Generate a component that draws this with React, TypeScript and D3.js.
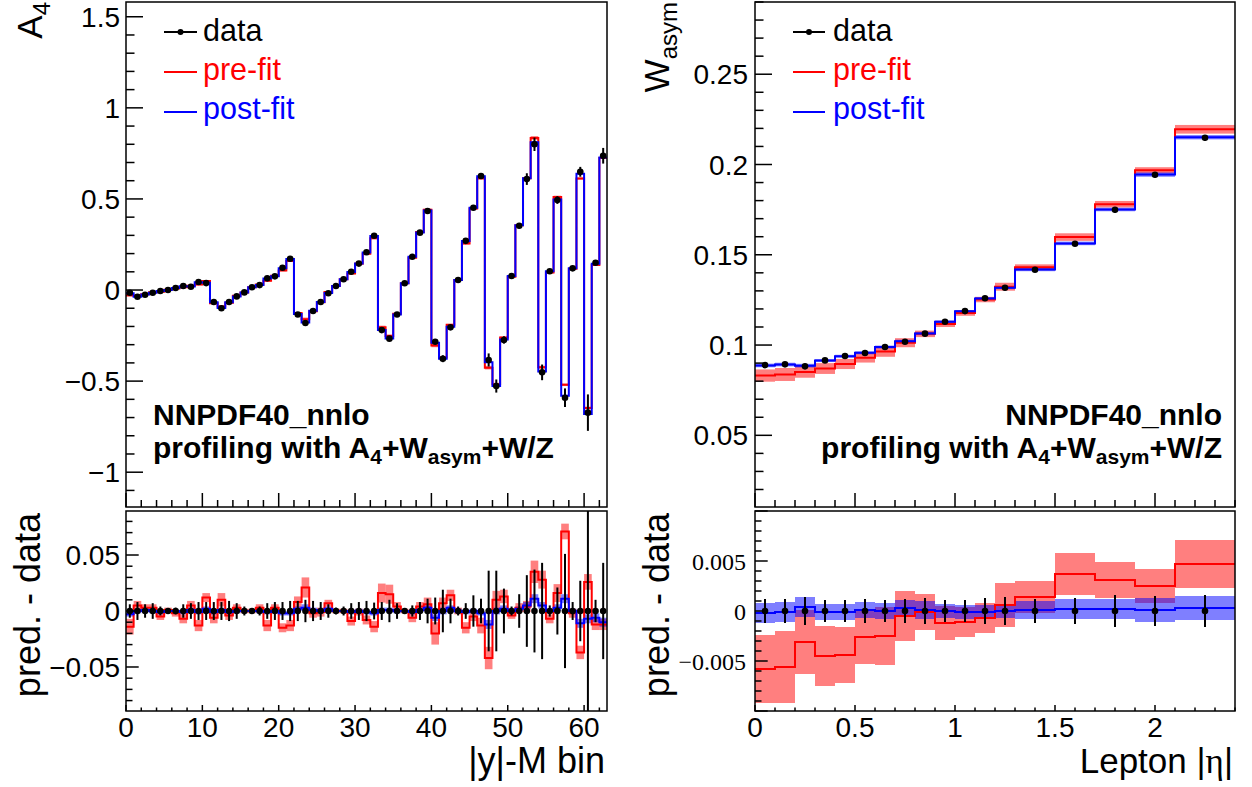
import React from "react";
import * as d3 from "d3";

// ---------------- Data: A4 vs |y|-M bin ----------------
const a4Edges = d3.range(0, 64);
const a4Data = [
  -0.015, -0.037, -0.026, -0.015, -0.005, 0.0, 0.011, 0.022, 0.018, 0.044,
  0.038, -0.066, -0.1, -0.066, -0.035, -0.013, 0.015, 0.027, 0.064, 0.075,
  0.122, 0.172, -0.134, -0.181, -0.115, -0.066, -0.018, 0.022, 0.059, 0.1,
  0.145, 0.207, 0.298, -0.22, -0.267, -0.134, 0.037, 0.183, 0.315, 0.434,
  -0.284, -0.377, -0.205, 0.055, 0.27, 0.452, 0.626, -0.384, -0.527, -0.274,
  0.077, 0.353, 0.609, 0.8, -0.452, 0.103, 0.494, -0.591, 0.119, 0.649,
  -0.673, 0.15, 0.737,
];
const a4Err = [
  0.006, 0.008, 0.006, 0.007, 0.004, 0.002, 0.003, 0.006, 0.007, 0.008,
  0.008, 0.008, 0.008, 0.009, 0.007, 0.004, 0.002, 0.004, 0.007, 0.008,
  0.008, 0.009, 0.009, 0.01, 0.009, 0.008, 0.006, 0.003, 0.004, 0.007,
  0.008, 0.009, 0.0075, 0.008, 0.01, 0.007, 0.002, 0.005, 0.008, 0.011,
  0.012, 0.019, 0.011, 0.004, 0.007, 0.014, 0.011, 0.036, 0.036, 0.02,
  0.004, 0.015, 0.032, 0.037, 0.043, 0.005, 0.021, 0.051, 0.008, 0.027,
  0.1, 0.01, 0.043,
];
const a4PreDiff = [
  -0.014, 0.005, 0.003, 0.003, -0.005, 0.001, -0.002, -0.007, 0.005, -0.013,
  0.012, -0.006, 0.01, -0.004, 0.003, 0.0, 0.0, 0.003, -0.013, 0.003,
  -0.015, -0.013, 0.008, 0.021, -0.002, -0.001, 0.007, 0.0, 0.0, -0.009,
  -0.001, -0.008, -0.014, 0.016, 0.015, 0.004, 0.0, -0.006, 0.004, 0.006,
  -0.02, 0.007, 0.014, 0.0, -0.015, -0.005, -0.013, -0.042, 0.01, 0.013,
  -0.004, 0.003, 0.004, 0.035, 0.028, -0.007, 0.016, 0.071, -0.002, -0.037,
  0.026, -0.012, -0.012,
];
const a4PreBand = [
  0.007, 0.004, 0.003, 0.003, 0.003, 0.002, 0.003, 0.004, 0.004, 0.005,
  0.004, 0.005, 0.006, 0.004, 0.003, 0.002, 0.002, 0.003, 0.005, 0.003,
  0.004, 0.005, 0.005, 0.009, 0.004, 0.004, 0.003, 0.002, 0.002, 0.004,
  0.003, 0.004, 0.005, 0.0085, 0.0085, 0.004, 0.002, 0.004, 0.004, 0.006,
  0.01, 0.005, 0.005, 0.003, 0.005, 0.004, 0.007, 0.01, 0.008, 0.006,
  0.003, 0.004, 0.005, 0.01, 0.008, 0.004, 0.008, 0.007, 0.004, 0.006,
  0.007, 0.005, 0.005,
];
const a4PostDiff = [
  -0.003, 0.0, 0.001, 0.0, -0.001, 0.0, 0.0, -0.001, 0.001, -0.001,
  0.002, -0.001, 0.001, -0.001, 0.0, 0.0, 0.0, 0.0, -0.001, 0.0,
  -0.002, -0.002, 0.002, 0.003, 0.001, 0.0, 0.002, 0.0, 0.0, -0.001,
  0.0, -0.001, -0.002, 0.001, 0.001, 0.0, 0.0, -0.001, 0.001, 0.003,
  -0.006, 0.0, 0.003, 0.0, -0.001, 0.0, -0.002, -0.012, 0.0, 0.002,
  0.0, 0.002, 0.005, 0.011, 0.005, 0.0, 0.003, 0.011, 0.0, -0.011,
  -0.007, -0.006, -0.01,
];
const a4PostBand = [
  0.002, 0.002, 0.002, 0.002, 0.002, 0.001, 0.001, 0.002, 0.002, 0.002,
  0.002, 0.002, 0.002, 0.002, 0.002, 0.001, 0.001, 0.002, 0.002, 0.002,
  0.002, 0.002, 0.002, 0.003, 0.002, 0.002, 0.002, 0.001, 0.001, 0.002,
  0.002, 0.002, 0.002, 0.002, 0.002, 0.002, 0.001, 0.002, 0.002, 0.002,
  0.003, 0.003, 0.002, 0.002, 0.002, 0.002, 0.002, 0.004, 0.003, 0.003,
  0.002, 0.002, 0.003, 0.004, 0.003, 0.002, 0.003, 0.004, 0.002, 0.004,
  0.004, 0.004, 0.004,
];

// ---------------- Data: W asymmetry vs lepton |eta| ----------------
const etaEdges = [0, 0.1, 0.2, 0.3, 0.4, 0.5, 0.6, 0.7, 0.8, 0.9, 1.0, 1.1, 1.2, 1.3, 1.5, 1.7, 1.9, 2.1, 2.4];
const wData = [0.0889, 0.0893, 0.0882, 0.0915, 0.0939, 0.0956, 0.0989, 0.1018, 0.1063, 0.1129, 0.1188, 0.1259, 0.1317, 0.1417, 0.1561, 0.1749, 0.1943, 0.2148];
const wErr = [0.0012, 0.0012, 0.0014, 0.0011, 0.0011, 0.0012, 0.0011, 0.0012, 0.0013, 0.0011, 0.0011, 0.0013, 0.0014, 0.0012, 0.0013, 0.0016, 0.0015, 0.0016];
const wPreDiff = [-0.0058, -0.0056, -0.0031, -0.0045, -0.0044, -0.0026, -0.0025, -0.0005, -0.0001, -0.0012, -0.0011, -0.0007, 0.0006, 0.0014, 0.0037, 0.0031, 0.0025, 0.0047];
const wPreBand = [0.0034, 0.0036, 0.0032, 0.003, 0.0028, 0.0027, 0.0029, 0.0025, 0.0018, 0.0017, 0.0015, 0.0015, 0.0022, 0.0016, 0.0021, 0.0018, 0.0017, 0.0024];
const wPostDiff = [-0.0002, -0.0001, 0.0004, -0.0001, -0.0001, 0.0001, 0.0, 0.0003, 0.0001, 0.0, -0.0001, -0.0001, 0.0, 0.0001, 0.0002, 0.0002, 0.0001, 0.0003];
const wPostBand = [0.001, 0.001, 0.001, 0.0008, 0.0008, 0.0008, 0.0008, 0.0008, 0.0009, 0.0007, 0.0007, 0.0007, 0.0007, 0.0009, 0.001, 0.001, 0.0012, 0.0012];

// ---------------- Tick labels ----------------
const a4YTicks = [-1, -0.5, 0, 0.5, 1, 1.5];
const a4YLabels = ["\u22121", "\u22120.5", "0", "0.5", "1", "1.5"];
const a4RatioTicks = [-0.05, 0, 0.05];
const a4RatioLabels = ["\u22120.05", "0", "0.05"];
const a4XTicks = [0, 10, 20, 30, 40, 50, 60];
const a4XLabels = ["0", "10", "20", "30", "40", "50", "60"];
const wYTicks = [0.05, 0.1, 0.15, 0.2, 0.25];
const wYLabels = ["0.05", "0.1", "0.15", "0.2", "0.25"];
const wRatioTicks = [-0.005, 0, 0.005];
const wRatioLabels = ["\u22120.005", "0", "0.005"];
const wXTicks = [0, 0.5, 1, 1.5, 2];
const wXLabels = ["0", "0.5", "1", "1.5", "2"];

const FONT = "'Liberation Sans', Arial, Helvetica, sans-serif";
const SERIF = "'Liberation Serif', 'Times New Roman', serif";
const RED = "#ff0000";
const BLUE = "#0000ff";

// Layout
const TOP_Y0 = 2, TOP_Y1 = 507, BOT_Y0 = 511, BOT_Y1 = 711;
const L_X0 = 126, L_X1 = 607, R_X0 = 755, R_X1 = 1235;

function Bands({ xs, ys, edges, vals, band, color, clip }: any) {
  return (
    <g clipPath={`url(#${clip})`}>
      {vals.map((v: number, i: number) => {
        const yt = ys(v + band[i]);
        const yb = ys(v - band[i]);
        return (
          <rect key={i} x={xs(edges[i])} width={xs(edges[i + 1]) - xs(edges[i])} y={yt} height={Math.max(0.5, yb - yt)} fill={color} fillOpacity={0.5} />
        );
      })}
    </g>
  );
}

function Step({ xs, ys, edges, vals, color, clip }: any) {
  const pts: [number, number][] = [];
  vals.forEach((v: number, i: number) => {
    pts.push([edges[i], v]);
    pts.push([edges[i + 1], v]);
  });
  const line = d3.line<[number, number]>().x((d) => xs(d[0])).y((d) => ys(d[1]));
  return <path clipPath={`url(#${clip})`} d={line(pts) || ""} fill="none" stroke={color} strokeWidth={2} />;
}

function Points({ xs, ys, centers, vals, errs, clip }: any) {
  return (
    <g clipPath={`url(#${clip})`}>
      {vals.map((v: number, i: number) => (
        <g key={i}>
          <line x1={xs(centers[i])} x2={xs(centers[i])} y1={ys(v - errs[i])} y2={ys(v + errs[i])} stroke="#000" strokeWidth={2} />
          <circle cx={xs(centers[i])} cy={ys(v)} r={3.3} fill="#000" />
        </g>
      ))}
    </g>
  );
}

function YAxis({ ys, x0, major, minor, majLen, minLen, tickVals, tickLabels, labelFont, labelSize, labelX }: any) {
  const [lo, hi] = ys.domain();
  const n0 = Math.ceil(lo / minor - 1e-6);
  const n1 = Math.floor(hi / minor + 1e-6);
  const ratio = Math.round(major / minor);
  const ticks = d3.range(n0, n1 + 1);
  return (
    <g>
      {ticks.map((k) => {
        const isMaj = k % ratio === 0;
        const y = ys(k * minor);
        return <line key={k} x1={x0} x2={x0 + (isMaj ? majLen : minLen)} y1={y} y2={y} stroke="#000" strokeWidth={1.5} />;
      })}
      {tickVals.map((v: number, i: number) => (
        <text key={"l" + i} x={labelX} y={ys(v)} dy="0.36em" textAnchor="end" fontFamily={labelFont} fontSize={labelSize} fill="#000">
          {tickLabels[i]}
        </text>
      ))}
    </g>
  );
}

function XAxis({ xs, y0, major, minor, majLen, minLen, tickVals, tickLabels, labelY }: any) {
  const [lo, hi] = xs.domain();
  const n0 = Math.ceil(lo / minor - 1e-6);
  const n1 = Math.floor(hi / minor + 1e-6);
  const ratio = Math.round(major / minor);
  const ticks = d3.range(n0, n1 + 1);
  return (
    <g>
      {ticks.map((k) => {
        const isMaj = k % ratio === 0;
        const x = xs(k * minor);
        return <line key={k} x1={x} x2={x} y1={y0} y2={y0 - (isMaj ? majLen : minLen)} stroke="#000" strokeWidth={1.5} />;
      })}
      {tickVals &&
        tickVals.map((v: number, i: number) => (
          <text key={"l" + i} x={xs(v)} y={labelY} textAnchor="middle" fontFamily={FONT} fontSize={28} fill="#000">
            {tickLabels[i]}
          </text>
        ))}
    </g>
  );
}

function Legend({ x, lineX0, lineX1 }: any) {
  const rows = [
    { label: "data", color: "#000", y: 32, base: 41 },
    { label: "pre-fit", color: RED, y: 72, base: 80 },
    { label: "post-fit", color: BLUE, y: 112, base: 119 },
  ];
  return (
    <g>
      {rows.map((r, i) => (
        <g key={i}>
          <line x1={lineX0} x2={lineX1} y1={r.y} y2={r.y} stroke={r.color} strokeWidth={2} />
          {i === 0 && <circle cx={(lineX0 + lineX1) / 2} cy={r.y} r={3} fill="#000" />}
          <text x={x} y={r.base} fontFamily={FONT} fontSize={30.5} fill={r.color}>
            {r.label}
          </text>
        </g>
      ))}
    </g>
  );
}

function Caption({ x, anchor }: any) {
  return (
    <g fontFamily={FONT} fontWeight="bold" fontSize={30} fill="#000">
      <text x={x} y={425} textAnchor={anchor}>NNPDF40_nnlo</text>
      <text x={x} y={458} textAnchor={anchor}>
        profiling with A<tspan fontSize={21} dy={6}>4</tspan>
        <tspan dy={-6}>+W</tspan>
        <tspan fontSize={21} dy={6}>asym</tspan>
        <tspan dy={-6}>+W/Z</tspan>
      </text>
    </g>
  );
}

export default function App() {
  // scales
  const xA4 = d3.scaleLinear().domain([0, 63]).range([L_X0, L_X1]);
  const yA4 = d3.scaleLinear().domain([-1.191, 1.581]).range([TOP_Y1, TOP_Y0]);
  const yA4r = d3.scaleLinear().domain([-0.0893, 0.0893]).range([BOT_Y1, BOT_Y0]);
  const xW = d3.scaleLinear().domain([0, 2.4]).range([R_X0, R_X1]);
  const yW = d3.scaleLinear().domain([0.0103, 0.29]).range([TOP_Y1, TOP_Y0]);
  const yWr = d3.scaleLinear().domain([-0.01, 0.01]).range([BOT_Y1, BOT_Y0]);

  const a4Centers = a4Data.map((_, i) => (a4Edges[i] + a4Edges[i + 1]) / 2);
  const wCenters = wData.map((_, i) => (etaEdges[i] + etaEdges[i + 1]) / 2);

  const a4Pre = a4Data.map((d, i) => d + a4PreDiff[i]);
  const a4Post = a4Data.map((d, i) => d + a4PostDiff[i]);
  const wPre = wData.map((d, i) => d + wPreDiff[i]);
  const wPost = wData.map((d, i) => d + wPostDiff[i]);
  const zerosA4 = a4Data.map(() => 0);
  const zerosW = wData.map(() => 0);

  const frame = (x0: number, x1: number, y0: number, y1: number) => (
    <rect x={x0} y={y0} width={x1 - x0} height={y1 - y0} fill="none" stroke="#000" strokeWidth={1.5} />
  );

  return (
    <svg width={1252} height={787} style={{ position: "absolute", left: 0, top: 0, background: "#fff" }}>
      <defs>
        <clipPath id="cLT"><rect x={L_X0} y={TOP_Y0} width={L_X1 - L_X0} height={TOP_Y1 - TOP_Y0} /></clipPath>
        <clipPath id="cLB"><rect x={L_X0} y={BOT_Y0} width={L_X1 - L_X0} height={BOT_Y1 - BOT_Y0} /></clipPath>
        <clipPath id="cRT"><rect x={R_X0} y={TOP_Y0} width={R_X1 - R_X0} height={TOP_Y1 - TOP_Y0} /></clipPath>
        <clipPath id="cRB"><rect x={R_X0} y={BOT_Y0} width={R_X1 - R_X0} height={BOT_Y1 - BOT_Y0} /></clipPath>
      </defs>
      <rect x={0} y={0} width={1252} height={787} fill="#fff" />

      {/* ---------- Left top ---------- */}
      <Bands xs={xA4} ys={yA4} edges={a4Edges} vals={a4Pre} band={a4PreBand} color={RED} clip="cLT" />
      <Bands xs={xA4} ys={yA4} edges={a4Edges} vals={a4Post} band={a4PostBand} color={BLUE} clip="cLT" />
      <Step xs={xA4} ys={yA4} edges={a4Edges} vals={a4Pre} color={RED} clip="cLT" />
      <Step xs={xA4} ys={yA4} edges={a4Edges} vals={a4Post} color={BLUE} clip="cLT" />
      <Points xs={xA4} ys={yA4} centers={a4Centers} vals={a4Data} errs={a4Err} clip="cLT" />
      <YAxis ys={yA4} x0={L_X0} major={0.5} minor={0.1} majLen={17} minLen={8.5} tickVals={a4YTicks} tickLabels={a4YLabels} labelFont={FONT} labelSize={28} labelX={120} />
      <XAxis xs={xA4} y0={TOP_Y1} major={10} minor={2} majLen={14} minLen={7} />
      {frame(L_X0, L_X1, TOP_Y0, TOP_Y1)}
      <Legend x={203} lineX0={164} lineX1={197} />
      <Caption x={153} anchor="start" />

      {/* ---------- Left bottom ---------- */}
      <Bands xs={xA4} ys={yA4r} edges={a4Edges} vals={a4PreDiff} band={a4PreBand} color={RED} clip="cLB" />
      <Bands xs={xA4} ys={yA4r} edges={a4Edges} vals={a4PostDiff} band={a4PostBand} color={BLUE} clip="cLB" />
      <Step xs={xA4} ys={yA4r} edges={a4Edges} vals={a4PreDiff} color={RED} clip="cLB" />
      <Step xs={xA4} ys={yA4r} edges={a4Edges} vals={a4PostDiff} color={BLUE} clip="cLB" />
      <Points xs={xA4} ys={yA4r} centers={a4Centers} vals={zerosA4} errs={a4Err} clip="cLB" />
      <YAxis ys={yA4r} x0={L_X0} major={0.05} minor={0.01} majLen={12.7} minLen={6.5} tickVals={a4RatioTicks} tickLabels={a4RatioLabels} labelFont={FONT} labelSize={28} labelX={120} />
      <XAxis xs={xA4} y0={BOT_Y1} major={10} minor={2} majLen={6} minLen={3.5} tickVals={a4XTicks} tickLabels={a4XLabels} labelY={737} />
      {frame(L_X0, L_X1, BOT_Y0, BOT_Y1)}

      {/* ---------- Right top ---------- */}
      <Bands xs={xW} ys={yW} edges={etaEdges} vals={wPre} band={wPreBand} color={RED} clip="cRT" />
      <Bands xs={xW} ys={yW} edges={etaEdges} vals={wPost} band={wPostBand} color={BLUE} clip="cRT" />
      <Step xs={xW} ys={yW} edges={etaEdges} vals={wPre} color={RED} clip="cRT" />
      <Step xs={xW} ys={yW} edges={etaEdges} vals={wPost} color={BLUE} clip="cRT" />
      <Points xs={xW} ys={yW} centers={wCenters} vals={wData} errs={wErr} clip="cRT" />
      <YAxis ys={yW} x0={R_X0} major={0.05} minor={0.01} majLen={17} minLen={8.5} tickVals={wYTicks} tickLabels={wYLabels} labelFont={FONT} labelSize={28} labelX={748} />
      <XAxis xs={xW} y0={TOP_Y1} major={0.5} minor={0.1} majLen={14} minLen={7} />
      {frame(R_X0, R_X1, TOP_Y0, TOP_Y1)}
      <Legend x={833} lineX0={793} lineX1={825} />
      <Caption x={1222} anchor="end" />

      {/* ---------- Right bottom ---------- */}
      <Bands xs={xW} ys={yWr} edges={etaEdges} vals={wPreDiff} band={wPreBand} color={RED} clip="cRB" />
      <Bands xs={xW} ys={yWr} edges={etaEdges} vals={wPostDiff} band={wPostBand} color={BLUE} clip="cRB" />
      <Step xs={xW} ys={yWr} edges={etaEdges} vals={wPreDiff} color={RED} clip="cRB" />
      <Step xs={xW} ys={yWr} edges={etaEdges} vals={wPostDiff} color={BLUE} clip="cRB" />
      <Points xs={xW} ys={yWr} centers={wCenters} vals={zerosW} errs={wErr} clip="cRB" />
      <YAxis ys={yWr} x0={R_X0} major={0.005} minor={0.001} majLen={12.7} minLen={6.5} tickVals={wRatioTicks} tickLabels={wRatioLabels} labelFont={SERIF} labelSize={24} labelX={746} />
      <XAxis xs={xW} y0={BOT_Y1} major={0.5} minor={0.1} majLen={6} minLen={3.5} tickVals={wXTicks} tickLabels={wXLabels} labelY={737} />
      {frame(R_X0, R_X1, BOT_Y0, BOT_Y1)}

      {/* ---------- Axis titles ---------- */}
      <text transform="translate(42,2) rotate(-90)" textAnchor="end" fontFamily={FONT} fontSize={35} fill="#000">
        A<tspan fontSize={24} dy={8}>4</tspan>
      </text>
      <text transform="translate(669,2) rotate(-90)" textAnchor="end" fontFamily={FONT} fontSize={35} fill="#000">
        W<tspan fontSize={24} dy={8}>asym</tspan>
      </text>
      <text transform="translate(40,513) rotate(-90)" textAnchor="end" fontFamily={FONT} fontSize={36} fill="#000">
        pred. - data
      </text>
      <text transform="translate(669,513) rotate(-90)" textAnchor="end" fontFamily={FONT} fontSize={36} fill="#000">
        pred. - data
      </text>
      <text x={605} y={773} textAnchor="end" fontFamily={FONT} fontSize={36} fill="#000">
        |y|-M bin
      </text>
      <text x={1233} y={773} textAnchor="end" fontFamily={FONT} fontSize={35} fill="#000">
        Lepton |<tspan fontFamily={SERIF}>η</tspan>|
      </text>
    </svg>
  );
}
